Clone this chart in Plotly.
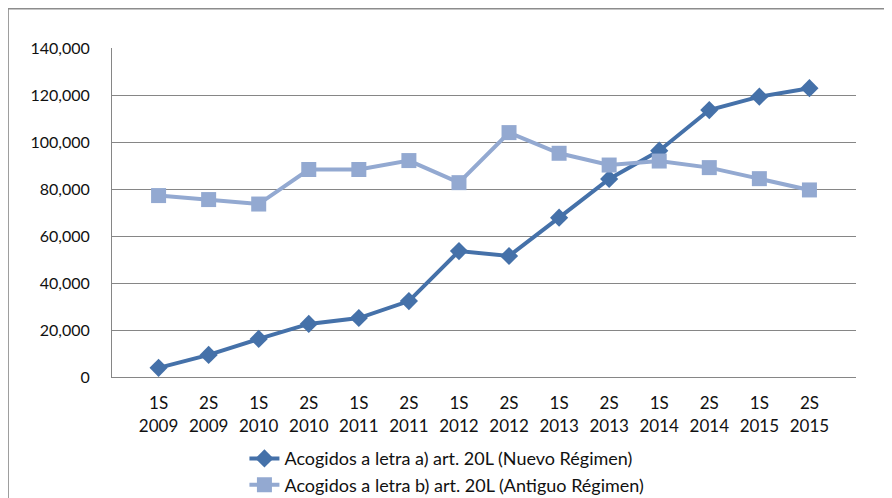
import plotly.graph_objects as go

periods = ["1S<br>2009", "2S<br>2009", "1S<br>2010", "2S<br>2010", "1S<br>2011", "2S<br>2011",
           "1S<br>2012", "2S<br>2012", "1S<br>2013", "2S<br>2013", "1S<br>2014", "2S<br>2014",
           "1S<br>2015", "2S<br>2015"]

nuevo_regimen = [3900, 9400, 16200, 22600, 25100, 32300, 53600, 51500,
                 67800, 84300, 96300, 113600, 119300, 122900]

antiguo_regimen = [77200, 75500, 73600, 88300, 88300, 92100, 82700, 104000,
                   95200, 90200, 91900, 89100, 84400, 79600]

name_a = "Acogidos a letra a) art. 20L (Nuevo Régimen)"
name_b = "Acogidos a letra b) art. 20L (Antiguo Régimen)"

fig = go.Figure()

fig.add_trace(go.Scatter(
    x=periods, y=nuevo_regimen, name=name_a, mode="lines+markers",
    line=dict(color="#4571A9", width=4),
    marker=dict(symbol="diamond", size=14, color="#4571A9"),
))

fig.add_trace(go.Scatter(
    x=periods, y=antiguo_regimen, name=name_b, mode="lines+markers",
    line=dict(color="#93A9D1", width=4),
    marker=dict(symbol="square", size=15, color="#93A9D1"),
))

# outer chart frame (partly cut off at right and bottom)
fig.add_shape(type="rect", xref="paper", yref="paper",
              x0=-0.14, x1=1.5, y0=-1.0, y1=1.12,
              line=dict(color="#8C8C8C", width=2), layer="below")

# the page body adds an 8px offset, so the figure is 8px smaller
fig.update_layout(
    width=884, height=490,
    margin=dict(l=104, r=36, t=40, b=121),
    paper_bgcolor="white", plot_bgcolor="white",
    font=dict(family="Lato, Open Sans, sans-serif", size=16, color="#111111"),
    showlegend=True,
    legend=dict(x=0.178, y=0.118, xanchor="left", yanchor="top", yref="container",
                font=dict(size=18), tracegroupgap=0, bgcolor="rgba(0,0,0,0)"),
    xaxis=dict(showgrid=False, showline=True, linecolor="#868686", linewidth=1,
               ticks="", tickfont=dict(size=17), ticklabelstandoff=11,
               automargin=False),
    yaxis=dict(range=[0, 140000], dtick=20000, tickformat=",d",
               showgrid=True, gridcolor="#868686", gridwidth=1,
               showline=True, linecolor="#868686", linewidth=1,
               zeroline=False, ticks="", ticklabelstandoff=18,
               tickfont=dict(size=16), automargin=False),
)

fig.write_html("out.html")
